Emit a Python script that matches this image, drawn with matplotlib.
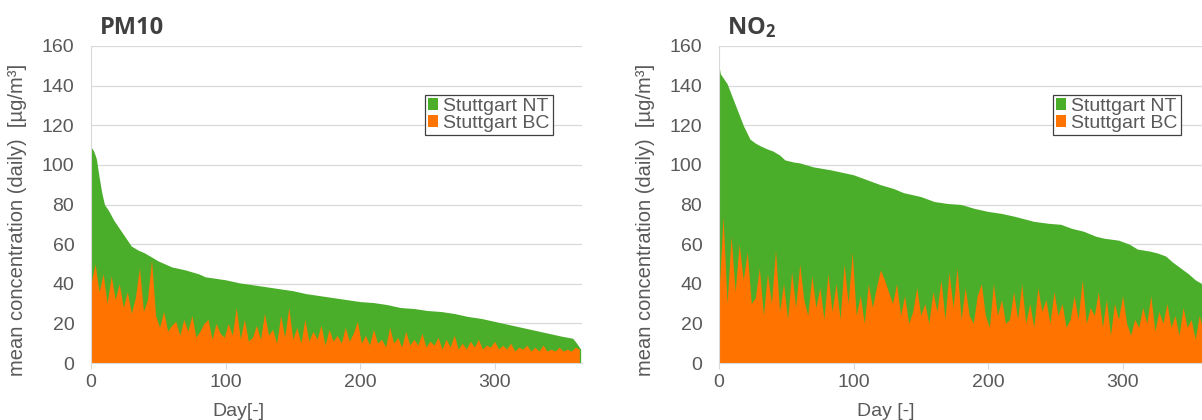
import matplotlib
matplotlib.use("Agg")
import matplotlib.pyplot as plt
import numpy as np

plt.rcParams['font.family'] = ['Liberation Sans', 'DejaVu Sans']
plt.rcParams['mathtext.fontset'] = 'custom'
plt.rcParams['mathtext.bf'] = 'Open Sans:bold'
plt.rcParams['mathtext.rm'] = 'Open Sans:bold'

# PM10, Stuttgart NT (sorted daily means)
pm_nt_days = [0, 2, 4, 6, 8, 10, 13, 17, 20, 23, 27, 30, 35, 40, 45, 50, 55, 60, 70, 80,
              85, 90, 100, 110, 120, 130, 140, 150, 160, 170, 180, 190, 200, 210, 220,
              230, 240, 250, 260, 270, 280, 290, 300, 310, 320, 330, 340, 350, 358, 361, 364]
pm_nt = [109, 107, 103, 94, 86, 80, 77, 72, 69, 66, 62, 59, 57, 55.5, 53.5, 51.5, 50, 48.5, 47, 45,
         43.5, 43, 42, 40.5, 39.5, 38.5, 37.5, 36.5, 35, 34, 33, 32, 31, 30.5, 29.5,
         28, 27.5, 26.5, 26, 25, 23.5, 22.5, 21, 19.5, 18, 16.5, 15, 13.5, 12.5, 10, 7]

# PM10, Stuttgart BC (every 3rd day)
pm_bc = [40, 50, 36, 45, 30, 44, 32, 40, 28, 36, 25, 33, 48, 26, 32, 52,
         24, 18, 26, 16, 19, 21, 14, 22, 16, 24, 13, 16, 20, 22, 12, 20, 15, 13,
         20, 14, 28, 12, 22, 11, 13, 19, 12, 25, 14, 17, 10, 24, 13, 28, 12, 18, 10, 22,
         11, 16, 12, 19, 9, 17, 11, 14, 10, 18, 11, 15, 21,
         10, 14, 9, 17, 10, 12, 8, 18, 10, 13, 8, 16, 9, 12, 9, 15, 8, 11, 9, 13,
         7, 12, 8, 14, 7, 10, 7, 11, 8, 12, 7, 9, 8, 11,
         7, 9, 7, 10, 6, 8, 7, 9, 6, 8, 6, 9, 6, 7, 6, 8, 6, 7, 6, 8, 7]

# NO2, Stuttgart NT
no2_nt_days = [0, 1, 3, 6, 10, 14, 18, 23, 27, 31, 36, 40, 45, 49, 55, 60, 70, 83, 100, 110,
               120, 130, 137, 150, 160, 170, 180, 190, 200, 210, 220, 234, 245, 254, 262,
               271, 280, 286, 297, 305, 311, 320, 326, 332, 337, 343, 349, 354, 359, 362, 364]
no2_nt = [150, 146, 144, 141, 134, 127, 120, 113, 111, 109.5, 108, 107, 105, 102.5, 101.5, 101, 99, 97.5, 95, 92.5,
          90, 88, 86, 84, 81.5, 80.5, 80, 78, 76.5, 75.5, 74, 71.5, 70.5, 70, 68,
          66.5, 64, 63, 62, 60, 57.5, 56.5, 55.5, 54, 51, 48, 45, 42, 40, 36, 32]

# NO2, Stuttgart BC (every 3rd day)
no2_bc = [35, 74, 30, 64, 36, 60, 42, 56, 30, 33, 48, 24, 45, 30, 57, 26, 40, 22, 46, 28,
          50, 32, 24, 44, 28, 38, 22, 45, 26, 40, 22, 50, 30, 56,
          24, 34, 20, 40, 28, 38, 47, 42, 36, 30, 40, 24, 34, 20, 26, 38, 24, 30, 20, 36,
          26, 42, 22, 46, 28, 48, 22, 38, 24, 20, 34, 40, 24,
          18, 40, 24, 32, 20, 22, 36, 22, 40, 20, 30, 18, 38, 26, 32, 20, 36, 24, 30, 18,
          22, 34, 22, 42, 20, 28, 24, 36, 18, 32, 14, 30, 22, 34,
          20, 14, 22, 18, 28, 20, 34, 16, 26, 20, 30, 18, 24, 14, 28, 18, 22, 12, 24, 16, 22]

bc_days = np.arange(0, 3 * len(pm_bc), 3)

green = '#4aae2a'
orange = '#ff7400'
grey_txt = '#595959'
grid_c = '#d9d9d9'

fig = plt.figure(figsize=(12.02, 4.2), dpi=100)
ax1 = fig.add_axes([91 / 1202, 1 - 363 / 420, 491 / 1202, 317 / 420])
ax2 = fig.add_axes([719 / 1202, 1 - 363 / 420, 491 / 1202, 317 / 420])

panels = [(ax1, pm_nt_days, pm_nt, pm_bc, "Day[-]", 0.30),
          (ax2, no2_nt_days, no2_nt, no2_bc, "Day [-]", 0.34)]

for ax, nt_d, nt, bc, xlab, xl_pos in panels:
    ax.fill_between(nt_d, nt, color=green, lw=0, label="Stuttgart NT")
    ax.fill_between(bc_days, bc, color=orange, lw=0, label="Stuttgart BC")
    ax.set_xlim(0, 365)
    ax.set_ylim(0, 160)
    ax.set_yticks(range(0, 161, 20))
    ax.set_xticks([0, 100, 200, 300])
    ax.grid(axis='y', color=grid_c, lw=0.9)
    ax.set_axisbelow(True)
    for s in ['top', 'right']:
        ax.spines[s].set_visible(False)
    for s in ['left', 'bottom']:
        ax.spines[s].set_color(grid_c)
    ax.tick_params(axis='y', length=0, pad=12, labelsize=14, labelcolor=grey_txt)
    ax.tick_params(axis='x', length=4, color=grid_c, pad=4, labelsize=14, labelcolor=grey_txt)
    ax.set_ylabel("mean concentration (daily)  [µg/m³]", fontsize=14.5, color=grey_txt)
    ax.yaxis.set_label_coords(-0.13, 0.45)
    ax.set_xlabel(xlab, fontsize=14, color=grey_txt)
    ax.xaxis.set_label_coords(xl_pos, -0.125)
    leg = ax.legend(loc='upper left', bbox_to_anchor=(0.68, 0.845), fontsize=14,
                    handlelength=0.55, handleheight=0.55, handletextpad=0.25,
                    borderpad=0.15, labelspacing=0.0, borderaxespad=0,
                    fancybox=False, framealpha=1, edgecolor='#404040')
    leg.get_frame().set_linewidth(0.9)
    for t in leg.get_texts():
        t.set_color(grey_txt)

fig.text(100 / 1202, 1 - 28 / 420, "PM10", fontsize=17, fontweight='bold',
         family='Open Sans', color='#404040', va='center')
fig.text(727 / 1202, 1 - 28 / 420, r"$\mathbf{NO_2}$", fontsize=17,
         color='#404040', va='center')

fig.savefig("out.png", dpi=100)
